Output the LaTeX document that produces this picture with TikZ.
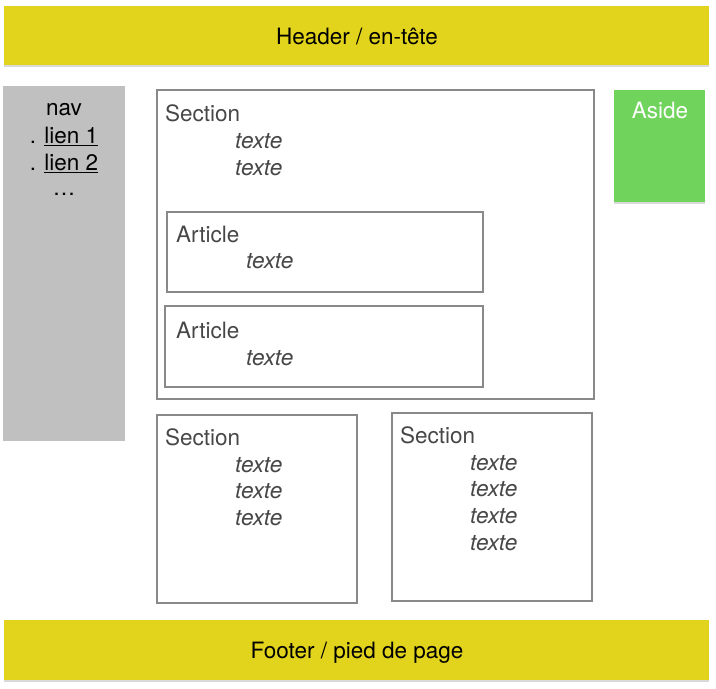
\documentclass[tikz,border=0pt]{standalone}
\usepackage{fontspec}
\setmainfont{TeX Gyre Heros}
\usepackage{tikz}
\usetikzlibrary{shadows}
\definecolor{BarYellow}{HTML}{E2D41C}
\definecolor{AsideGreen}{HTML}{6FD35C}
\definecolor{NavGray}{HTML}{C0C0C0}
\definecolor{FrameGray}{HTML}{88898B}
\definecolor{TextGray}{HTML}{474747}
\tikzset{
  bar/.style={fill=BarYellow,draw=none,inner sep=0pt,anchor=north west,
    drop shadow={opacity=0.3,shadow xshift=0pt,shadow yshift=-2pt}},
  frame/.style={draw=FrameGray,line width=2pt,fill=white,inner sep=0pt,anchor=north west},
  label/.style={anchor=base,inner sep=0pt,font=\fontsize{22.5}{27}\selectfont},
  title/.style={anchor=base west,inner sep=0pt,text=TextGray,font=\fontsize{22.5}{27}\selectfont},
  txt/.style={anchor=base west,inner sep=0pt,text=TextGray,font=\fontsize{22.5}{27}\selectfont\itshape},
}
\begin{document}
\begin{tikzpicture}[x=1pt,y=-1pt]
\useasboundingbox (0,0) rectangle (716,689);
% header and footer
\node[bar,minimum width=705pt,minimum height=59pt] (header) at (4,6) {};
\node[label] (headtxt) at (357,44) {Header / en-tête};
\node[bar,minimum width=705pt,minimum height=60pt] (footer) at (4,620) {};
\node[label] (foottxt) at (357,658) {Footer / pied de page};
% nav
\node[fill=NavGray,inner sep=0pt,anchor=north west,minimum width=122pt,minimum height=355pt] (nav) at (3,86) {};
\node[label] (navtxt) at (64,115) {nav};
\node[label] (lien1) at (64,143) {. \underline{lien 1}};
\node[label] (lien2) at (64,170) {. \underline{lien 2}};
\node[label] (navdots) at (64,195) {\dots};
% aside
\node[bar,fill=AsideGreen,minimum width=91pt,minimum height=112pt] (aside) at (614,90) {};
\node[label,text=white] (asidetxt) at (660,118) {Aside};
% main section with two articles
\node[frame,minimum width=437pt,minimum height=309pt] (sec1) at (156,89) {};
\node[title] (sec1t) at (165,121) {Section};
\node[txt] (sec1a) at (235,148) {texte};
\node[txt] (sec1b) at (235,175) {texte};
\node[frame,minimum width=316pt,minimum height=80pt] (art1) at (166,211) {};
\node[title] (art1t) at (176,242) {Article};
\node[txt] (art1a) at (246,268.5) {texte};
\node[frame,minimum width=318pt,minimum height=81pt] (art2) at (164,305) {};
\node[title] (art2t) at (176,338) {Article};
\node[txt] (art2a) at (246,365) {texte};
% lower sections
\node[frame,minimum width=200pt,minimum height=188pt] (sec2) at (156,414) {};
\node[title] (sec2t) at (165,445) {Section};
\node[txt] (sec2a) at (235,472) {texte};
\node[txt] (sec2b) at (235,498.5) {texte};
\node[txt] (sec2c) at (235,525) {texte};
\node[frame,minimum width=200pt,minimum height=188pt] (sec3) at (391,412) {};
\node[title] (sec3t) at (400,443.5) {Section};
\node[txt] (sec3a) at (470,470) {texte};
\node[txt] (sec3b) at (470,496.5) {texte};
\node[txt] (sec3c) at (470,523) {texte};
\node[txt] (sec3d) at (470,550) {texte};
\end{tikzpicture}
\end{document}
